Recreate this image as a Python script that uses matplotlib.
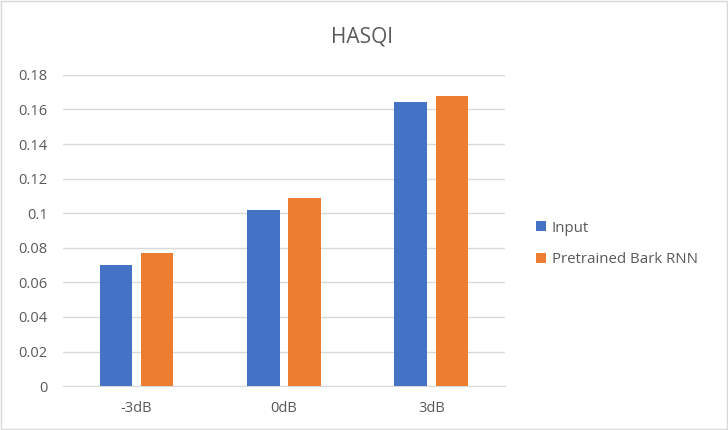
import matplotlib.pyplot as plt
import numpy as np
from matplotlib.patches import Rectangle

categories = ['-3dB', '0dB', '3dB']
input_vals = [0.070, 0.102, 0.164]
bark_vals = [0.077, 0.109, 0.168]
yticks = [0, 0.02, 0.04, 0.06, 0.08, 0.1, 0.12, 0.14, 0.16, 0.18]
ytick_labels = ['0', '0.02', '0.04', '0.06', '0.08', '0.1', '0.12', '0.14', '0.16', '0.18']

plt.rcParams['font.family'] = ['Open Sans', 'DejaVu Sans']
txt = '#595959'

fig = plt.figure(figsize=(7.28, 4.3), dpi=100)
ax = fig.add_axes([0.0865, 0.102, 0.607, 0.724])

x = np.arange(len(categories))
w = 0.22
ax.bar(x - 0.14, input_vals, w, color='#4472C4', label='Input', zorder=3)
ax.bar(x + 0.14, bark_vals, w, color='#ED7D31', label='Pretrained Bark RNN', zorder=3)

ax.set_xlim(-0.5, 2.5)
ax.set_ylim(0, 0.18)
ax.set_yticks(yticks)
ax.set_yticklabels(ytick_labels)
ax.set_xticks(x)
ax.set_xticklabels(categories)
ax.tick_params(axis='both', length=0, labelsize=10.5, colors=txt)
ax.tick_params(axis='y', pad=11)
ax.tick_params(axis='x', pad=11)
ax.grid(axis='y', color='#D9D9D9', linewidth=1, zorder=0)
for s in ['top', 'right', 'left']:
    ax.spines[s].set_visible(False)
ax.spines['bottom'].set_color('#D9D9D9')

fig.text(0.497, 0.915, 'HASQI', ha='center', va='center', fontsize=15, color=txt)

ax.legend(loc='upper left', bbox_to_anchor=(1.04, 0.575), frameon=False,
          fontsize=10.8, labelcolor=txt, handlelength=0.65, handleheight=0.65,
          handletextpad=0.4, labelspacing=1.1)

fig.patches.append(Rectangle((0.002, 0.002), 0.996, 0.996, transform=fig.transFigure,
                             fill=False, edgecolor='#D9D9D9', linewidth=1))

fig.savefig('out.png', dpi=100)
